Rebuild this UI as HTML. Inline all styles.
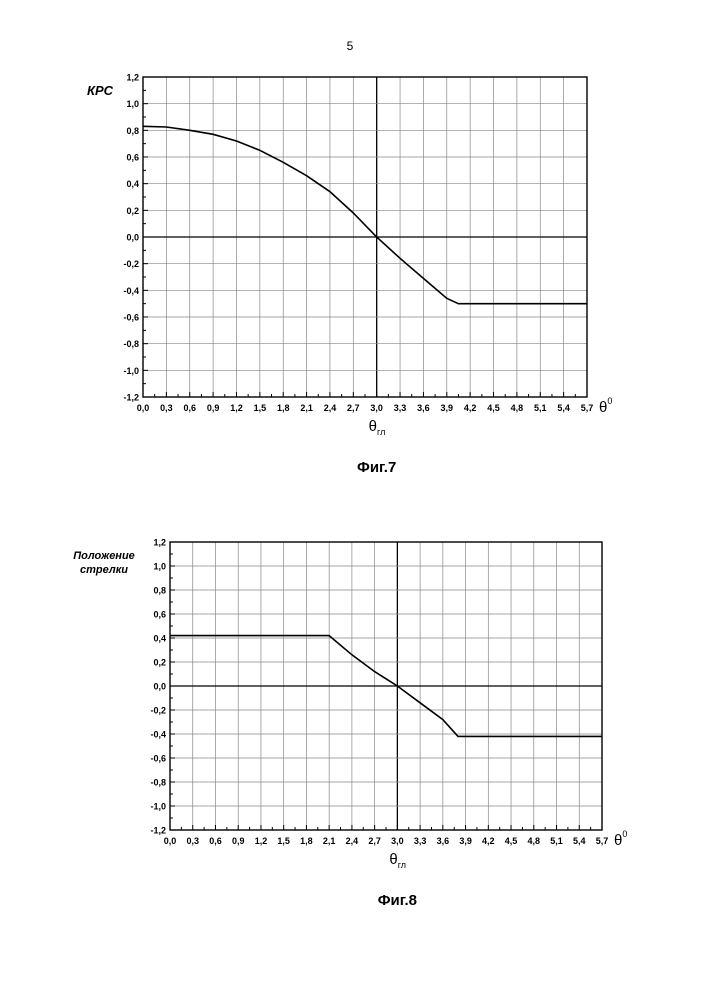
<!DOCTYPE html>
<html><head><meta charset="utf-8"><style>
body{margin:0;background:#fff;width:707px;height:1000px;overflow:hidden}
svg{display:block}
text{font-family:"Liberation Sans",sans-serif;fill:#000}
</style></head><body>
<svg id="s" width="707" height="1000">
<text x="350" y="50" font-size="12" text-anchor="middle">5</text>
</svg>
<script>
const xTicks=["0,0","0,3","0,6","0,9","1,2","1,5","1,8","2,1","2,4","2,7","3,0","3,3","3,6","3,9","4,2","4,5","4,8","5,1","5,4","5,7"];
const yTicks=["1,2","1,0","0,8","0,6","0,4","0,2","0,0","-0,2","-0,4","-0,6","-0,8","-1,0","-1,2"];
const fig7X=[0,0.3,0.6,0.9,1.2,1.5,1.8,2.1,2.4,2.7,3.0,3.3,3.6,3.9,4.05,5.7];
const fig7Y=[0.83,0.825,0.80,0.77,0.72,0.65,0.56,0.46,0.34,0.18,0.0,-0.16,-0.31,-0.46,-0.5,-0.5];
const fig8X=[0,2.1,2.4,2.7,3.0,3.3,3.6,3.8,5.7];
const fig8Y=[0.42,0.42,0.26,0.12,0.0,-0.14,-0.28,-0.42,-0.42];
const NS="http://www.w3.org/2000/svg";
const svg=document.getElementById('s');
function mk(tag,attrs,parent){const e=document.createElementNS(NS,tag);for(const k in attrs)e.setAttribute(k,attrs[k]);(parent||svg).appendChild(e);return e;}
function chart(o){
 const g=mk('g',{});
 
 
 const sx=v=>o.l+(v/5.7)*(o.r-o.l), sy=v=>o.t+(1.2-v)/2.4*(o.b-o.t);
 for(let i=0;i<=19;i++){const x=sx(i*0.3);
  const ln=mk('line',{x1:x,x2:x,y1:o.t,y2:o.b,stroke:i==10?'#000':'#888','stroke-width':i==10?1.3:0.7},g);
  
  
  mk('line',{x1:x,x2:x,y1:o.b,y2:o.b-5,stroke:'#000'},g);
  if(i<19)mk('line',{x1:sx(i*0.3+0.15),x2:sx(i*0.3+0.15),y1:o.b,y2:o.b-3,stroke:'#000'},g);
  const t=mk('text',{x:x,y:o.b+14,'font-size':9,'font-weight':'bold','text-anchor':'middle'},g);t.textContent=xTicks[i];
  
  
 }
 for(let j=0;j<=12;j++){const v=1.2-j*0.2,y=sy(v);
  const ln=mk('line',{x1:o.l,x2:o.r,y1:y,y2:y,stroke:j==6?'#000':'#888','stroke-width':j==6?1.3:0.7},g);
  
  
  mk('line',{x1:o.l,x2:o.l+5,y1:y,y2:y,stroke:'#000'},g);
  if(j<12)mk('line',{x1:o.l,x2:o.l+3,y1:sy(v-0.1),y2:sy(v-0.1),stroke:'#000'},g);
  const t=mk('text',{x:o.l-4,y:y+3.5,'font-size':9,'font-weight':'bold','text-anchor':'end'},g);t.textContent=yTicks[j];
  
  
 }
 const fr=mk('rect',{x:o.l,y:o.t,width:o.r-o.l,height:o.b-o.t,fill:'none',stroke:'#000','stroke-width':1.4},g);
 
 
 const p=mk('polyline',{points:o.xs.map((x,i)=>sx(x)+','+sy(o.ys[i])).join(' '),fill:'none',stroke:'#000','stroke-width':1.6},g);
 
 
 const th=mk('text',{x:o.r+12,y:o.b+15,'font-size':15,'font-family':'Liberation Serif'},g);th.innerHTML='θ<tspan font-size="9" dy="-8">0</tspan>';
 
 
 const xl=mk('text',{x:sx(3.0)-8,y:o.b+34,'font-size':15,'font-family':'Liberation Serif'},g);xl.innerHTML='θ<tspan font-size="9" dy="4">гл</tspan>';
 
 
 const cap=mk('text',{x:sx(3.0),y:o.b+75,'font-size':15,'font-weight':'bold','text-anchor':'middle','font-family':'Liberation Serif'},g);cap.textContent=o.cap;
 
 
 o.ylab.forEach((s,k)=>{const t=mk('text',{x:o.yx,y:o.yy+k*14,'font-size':o.yfs,'font-style':'italic','font-weight':'bold','font-family':'Liberation Serif','text-anchor':'middle'},g);t.textContent=s;
  
  });
}
chart({name:'chart-fig7',l:143,r:587,t:77,b:397,xs:fig7X,ys:fig7Y,cap:'Фиг.7',ylab:['КРС'],yx:100,yy:95,yfs:13});
chart({name:'chart-fig8',l:170,r:602,t:542,b:830,xs:fig8X,ys:fig8Y,cap:'Фиг.8',ylab:['Положение','стрелки'],yx:104,yy:559,yfs:11});
</script>
</body></html>
